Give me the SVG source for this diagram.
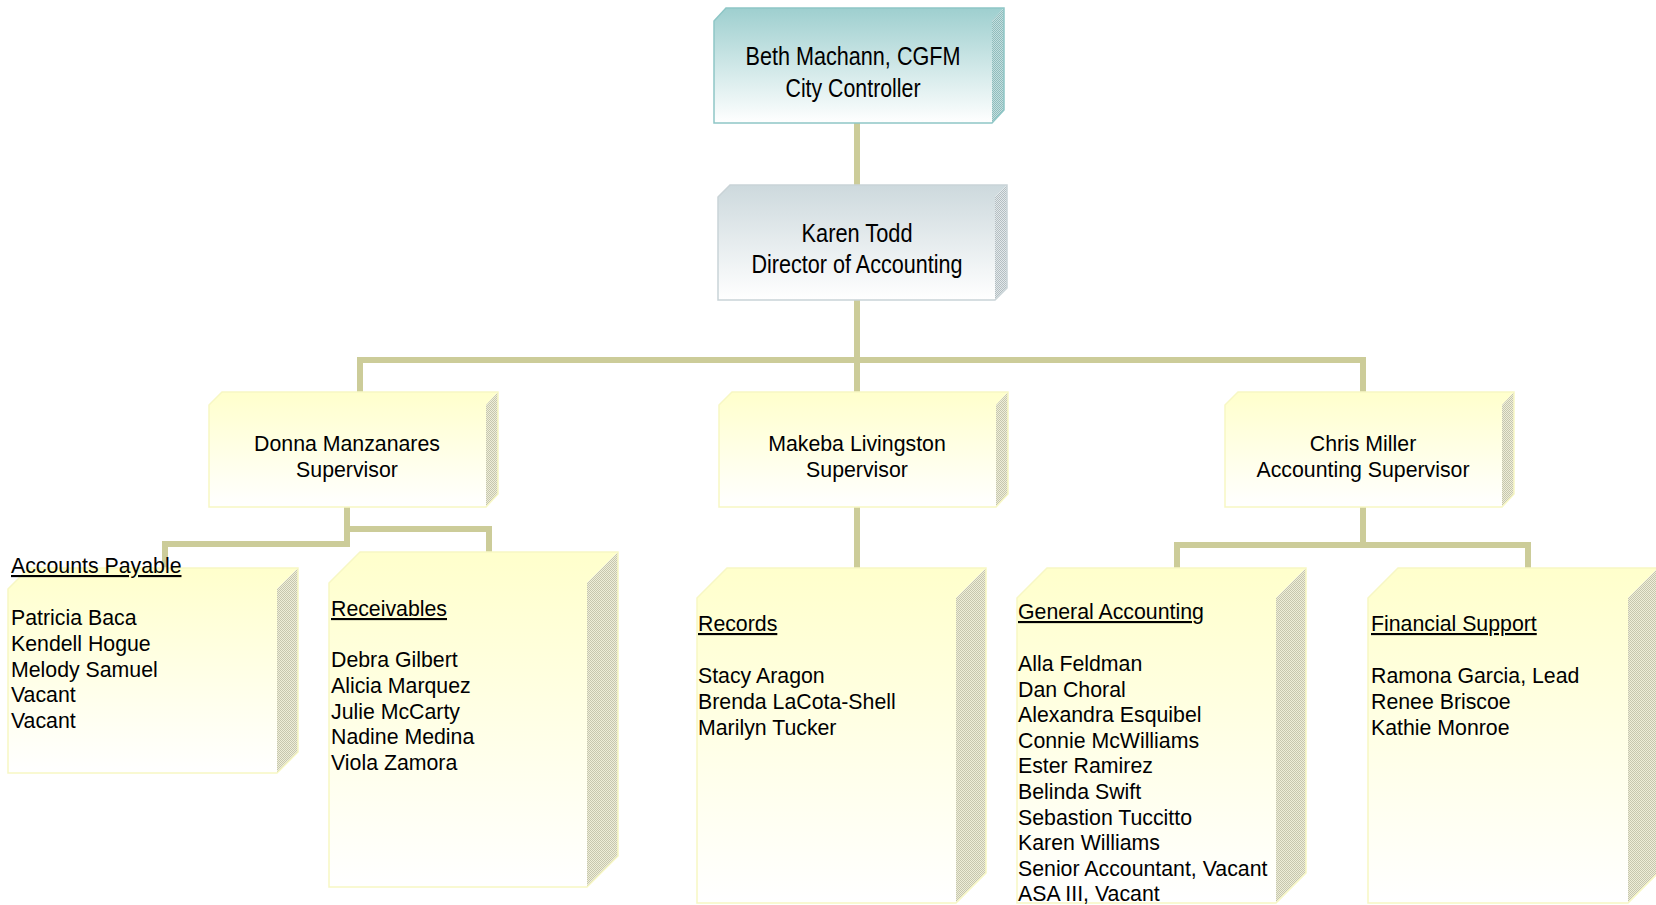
<svg xmlns="http://www.w3.org/2000/svg" width="1656" height="905" viewBox="0 0 1656 905">
<defs>
<linearGradient id="gTeal" x1="0" y1="0" x2="0" y2="1"><stop offset="0" stop-color="#9ECFCF"/><stop offset="1" stop-color="#FFFFFF"/></linearGradient>
<linearGradient id="gGray" x1="0" y1="0" x2="0" y2="1"><stop offset="0" stop-color="#CDD9DD"/><stop offset="1" stop-color="#FFFFFF"/></linearGradient>
<linearGradient id="gYel" x1="0" y1="0" x2="0" y2="1"><stop offset="0" stop-color="#FFFFCC"/><stop offset="1" stop-color="#FFFFFF"/></linearGradient>
<pattern id="pTeal" width="2" height="2" patternUnits="userSpaceOnUse"><rect width="2" height="2" fill="#C4DEDE"/><rect width="1" height="1" fill="#8FBDBD"/><rect x="1" y="1" width="1" height="1" fill="#8FBDBD"/></pattern>
<pattern id="pGray" width="2" height="2" patternUnits="userSpaceOnUse"><rect width="2" height="2" fill="#E2E8EA"/><rect width="1" height="1" fill="#B4BEC2"/><rect x="1" y="1" width="1" height="1" fill="#B4BEC2"/></pattern>
<pattern id="pYel" width="2" height="2" patternUnits="userSpaceOnUse"><rect width="2" height="2" fill="#EEEED8"/><rect width="1" height="1" fill="#C6C6AE"/><rect x="1" y="1" width="1" height="1" fill="#C6C6AE"/></pattern>
</defs>
<style>
.conn{fill:none;stroke:#CCCC99;stroke-width:6;stroke-linejoin:miter;stroke-linecap:butt}
.ft{fill:url(#gYel)} .sd{fill:url(#pYel)} .ol{fill:none;stroke:#F7F7C4;stroke-width:1.5}
.ftT{fill:url(#gTeal)} .sdT{fill:url(#pTeal)} .olT{fill:none;stroke:#8EC6C6;stroke-width:1.5}
.ftG{fill:url(#gGray)} .sdG{fill:url(#pGray)} .olG{fill:none;stroke:#C9D3D7;stroke-width:1.5}
.nar{font-family:"Liberation Sans Narrow","Arial Narrow","Liberation Sans",sans-serif;font-size:26px;fill:#000;text-anchor:middle}
.sup{font-family:"Liberation Sans",Arial,sans-serif;font-size:21.3px;fill:#000;text-anchor:middle}
.lst{font-family:"Liberation Sans",Arial,sans-serif;font-size:21.3px;fill:#000}
.ttl{text-decoration:underline}
</style>
<g id="connectors">
<path class="conn" d="M857,123 V190"/>
<path class="conn" d="M857,300 V400"/>
<path class="conn" d="M360,398 V360 H1363 V398"/>
<path class="conn" d="M347,507 V544 H165 V570"/>
<path class="conn" d="M347,529 H489 V556"/>
<path class="conn" d="M857,507 V572"/>
<path class="conn" d="M1363,507 V545"/>
<path class="conn" d="M1177,572 V545 H1528 V572"/>
</g>
<g id="beth">
<polygon class="ftT" points="714,21 726,8 1004,8 992,21 992,123 714,123"/>
<polygon class="sdT" points="992,21 1004,8 1004,110 992,123"/>
<polygon class="olT" points="714,21 726,8 1004,8 1004,110 992,123 714,123"/>
<text class="nar" x="853" y="65" textLength="215" lengthAdjust="spacingAndGlyphs">Beth Machann, CGFM</text>
<text class="nar" x="853" y="97" textLength="135" lengthAdjust="spacingAndGlyphs">City Controller</text>
</g>
<g id="karen">
<polygon class="ftG" points="718,197 730,185 1007,185 995,197 995,300 718,300"/>
<polygon class="sdG" points="995,197 1007,185 1007,288 995,300"/>
<polygon class="olG" points="718,197 730,185 1007,185 1007,288 995,300 718,300"/>
<text class="nar" x="857" y="242" textLength="111" lengthAdjust="spacingAndGlyphs">Karen Todd</text>
<text class="nar" x="857" y="273" textLength="211" lengthAdjust="spacingAndGlyphs">Director of Accounting</text>
</g>
<g id="donna">
<polygon class="ft" points="209,405 222,392 498,392 486,405 486,507 209,507"/>
<polygon class="sd" points="486,405 498,392 498,494 486,507"/>
<polygon class="ol" points="209,405 222,392 498,392 498,494 486,507 209,507"/>
<text class="sup" x="347" y="451">Donna Manzanares</text>
<text class="sup" x="347" y="477">Supervisor</text>
</g>
<g id="makeba">
<polygon class="ft" points="719,405 732,392 1008,392 996,405 996,507 719,507"/>
<polygon class="sd" points="996,405 1008,392 1008,494 996,507"/>
<polygon class="ol" points="719,405 732,392 1008,392 1008,494 996,507 719,507"/>
<text class="sup" x="857" y="451">Makeba Livingston</text>
<text class="sup" x="857" y="477">Supervisor</text>
</g>
<g id="chris">
<polygon class="ft" points="1225,405 1238,392 1514,392 1502,405 1502,507 1225,507"/>
<polygon class="sd" points="1502,405 1514,392 1514,494 1502,507"/>
<polygon class="ol" points="1225,405 1238,392 1514,392 1514,494 1502,507 1225,507"/>
<text class="sup" x="1363" y="451">Chris Miller</text>
<text class="sup" x="1363" y="477">Accounting Supervisor</text>
</g>
<g id="payable">
<polygon class="ft" points="8,589 29,568 298,568 277,589 277,773 8,773"/>
<polygon class="sd" points="277,589 298,568 298,752 277,773"/>
<polygon class="ol" points="8,589 29,568 298,568 298,752 277,773 8,773"/>
<text class="lst ttl" x="11" y="573">Accounts Payable</text>
<text class="lst" x="11" y="625">Patricia Baca</text>
<text class="lst" x="11" y="651">Kendell Hogue</text>
<text class="lst" x="11" y="677">Melody Samuel</text>
<text class="lst" x="11" y="702">Vacant</text>
<text class="lst" x="11" y="728">Vacant</text>
</g>
<g id="receivables">
<polygon class="ft" points="329,583 360,552 618,552 587,583 587,887 329,887"/>
<polygon class="sd" points="587,583 618,552 618,856 587,887"/>
<polygon class="ol" points="329,583 360,552 618,552 618,856 587,887 329,887"/>
<text class="lst ttl" x="331" y="616">Receivables</text>
<text class="lst" x="331" y="667">Debra Gilbert</text>
<text class="lst" x="331" y="693">Alicia Marquez</text>
<text class="lst" x="331" y="719">Julie McCarty</text>
<text class="lst" x="331" y="744">Nadine Medina</text>
<text class="lst" x="331" y="770">Viola Zamora</text>
</g>
<g id="records">
<polygon class="ft" points="697,598 727,568 986,568 956,598 956,903 697,903"/>
<polygon class="sd" points="956,598 986,568 986,873 956,903"/>
<polygon class="ol" points="697,598 727,568 986,568 986,873 956,903 697,903"/>
<text class="lst ttl" x="698" y="631">Records</text>
<text class="lst" x="698" y="683">Stacy Aragon</text>
<text class="lst" x="698" y="709">Brenda LaCota-Shell</text>
<text class="lst" x="698" y="735">Marilyn Tucker</text>
</g>
<g id="general">
<polygon class="ft" points="1017,598 1047,568 1306,568 1276,598 1276,903 1017,903"/>
<polygon class="sd" points="1276,598 1306,568 1306,873 1276,903"/>
<polygon class="ol" points="1017,598 1047,568 1306,568 1306,873 1276,903 1017,903"/>
<text class="lst ttl" x="1018" y="619">General Accounting</text>
<text class="lst" x="1018" y="671">Alla Feldman</text>
<text class="lst" x="1018" y="696.6">Dan Choral</text>
<text class="lst" x="1018" y="722.2">Alexandra Esquibel</text>
<text class="lst" x="1018" y="747.8">Connie McWilliams</text>
<text class="lst" x="1018" y="773.4">Ester Ramirez</text>
<text class="lst" x="1018" y="799">Belinda Swift</text>
<text class="lst" x="1018" y="824.6">Sebastion Tuccitto</text>
<text class="lst" x="1018" y="850.2">Karen Williams</text>
<text class="lst" x="1018" y="875.8">Senior Accountant, Vacant</text>
<text class="lst" x="1018" y="901.4">ASA III, Vacant</text>
</g>
<g id="financial">
<polygon class="ft" points="1368,598 1398,568 1658,568 1628,598 1628,903 1368,903"/>
<polygon class="sd" points="1628,598 1658,568 1658,873 1628,903"/>
<polygon class="ol" points="1368,598 1398,568 1658,568 1658,873 1628,903 1368,903"/>
<text class="lst ttl" x="1371" y="631">Financial Support</text>
<text class="lst" x="1371" y="683">Ramona Garcia, Lead</text>
<text class="lst" x="1371" y="709">Renee Briscoe</text>
<text class="lst" x="1371" y="735">Kathie Monroe</text>
</g>
</svg>
